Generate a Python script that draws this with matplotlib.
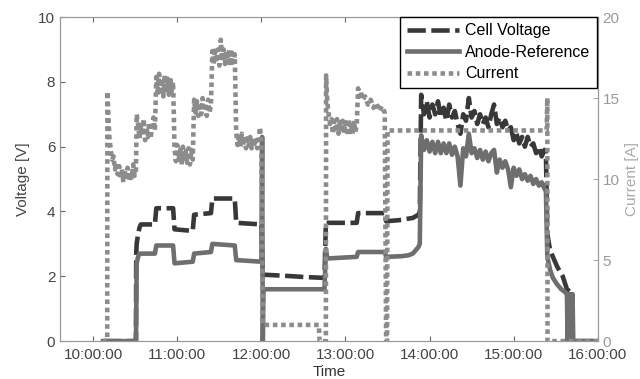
import pandas as pd
import matplotlib.pyplot as plt
import matplotlib.dates as mdates

plt.rcParams['font.family'] = ['Liberation Sans', 'DejaVu Sans']
plt.rcParams['font.size'] = 11

day = "2000-01-01 "

# current [A], right axis
cur_t = [
    "10:07", "10:10", "10:10:05", "10:10:40", "10:11:30", "10:12:30", "10:13:30", "10:14:30",
    "10:15:30", "10:16:30", "10:17:30", "10:18:30", "10:19:30", "10:20:30", "10:21:30", "10:22:30",
    "10:23:30", "10:24:30", "10:25:30", "10:26:30", "10:27:30", "10:28:30", "10:29:30", "10:30:30",
    "10:31", "10:32", "10:33", "10:34", "10:35", "10:36", "10:37", "10:38", "10:39", "10:40", "10:41", "10:42", "10:43", "10:44",
    "10:45", "10:46", "10:47", "10:48", "10:49", "10:50", "10:51", "10:52", "10:53", "10:54", "10:55", "10:56", "10:57",
    "10:58", "10:59", "11:00", "11:01", "11:02", "11:03", "11:04", "11:05", "11:06", "11:07", "11:08", "11:09", "11:10", "11:11",
    "11:12", "11:13", "11:14", "11:15", "11:16", "11:17", "11:18", "11:19", "11:20", "11:21", "11:22", "11:23", "11:24",
    "11:25", "11:26", "11:27", "11:28", "11:29", "11:30", "11:31", "11:32", "11:33", "11:34", "11:35", "11:36", "11:37", "11:38", "11:39", "11:40", "11:41",
    "11:42", "11:43", "11:44", "11:45", "11:46", "11:47", "11:48", "11:49", "11:50", "11:51", "11:52", "11:53", "11:54", "11:55", "11:56", "11:57", "11:58", "11:59", "12:00",
    "12:01", "12:10", "12:20", "12:30", "12:41", "12:41:30", "12:46", "12:46:10", "12:47", "12:48", "12:49",
    "12:50", "12:51", "12:52", "12:53", "12:54", "12:55", "12:56", "12:57", "12:58", "12:59", "13:00", "13:01", "13:02", "13:03", "13:04", "13:05", "13:06", "13:07", "13:08",
    "13:09", "13:10", "13:11", "13:12", "13:14", "13:16", "13:18", "13:20", "13:22", "13:24", "13:26", "13:28",
    "13:29", "13:29:40", "13:30", "14:00", "14:30", "15:00", "15:23:30", "15:24", "15:24:10", "16:00",
]
cur_a = [
    0, 0, 15.4, 14.2, 12.6, 11.8, 11.2, 11.4,
    10.6, 11.0, 10.3, 10.8, 10.0, 10.6, 9.8, 10.5,
    10.0, 10.7, 9.9, 10.4, 10.1, 10.9, 10.2, 10.6,
    14.0, 13.4, 12.5, 13.3, 12.7, 13.7, 12.4, 13.2, 12.6, 13.5, 12.5, 13.3, 13.8, 13.0,
    16.3, 15.2, 16.5, 15.4, 16.2, 15.1, 16.4, 15.3, 16.2, 15.2, 16.3, 15.4, 16.0,
    11.9, 11.1, 12.1, 11.2, 11.8, 10.9, 12.0, 11.1, 11.7, 11.0, 11.9, 10.9, 11.8, 11.2,
    14.9, 14.1, 14.8, 13.9, 14.7, 14.0, 15.0, 14.2, 14.7, 13.9, 14.9, 14.1, 14.6,
    17.9, 17.1, 18.1, 17.2, 18.0, 17.0, 18.6, 17.3, 18.0, 17.1, 17.9, 17.2, 18.0, 17.0, 17.8, 17.2, 17.7,
    12.9, 12.1, 12.7, 12.0, 12.8, 12.1, 12.6, 11.9, 12.7, 12.1, 12.6, 11.9, 12.5, 12.0, 12.6, 11.9, 12.4, 13.2, 12.2,
    1.0, 1.0, 1.0, 1.0, 1.0, 0, 0, 16.4, 14.8, 14.0, 13.4,
    13.7, 12.8, 13.6, 12.9, 13.7, 12.8, 13.5, 12.9, 13.6, 12.8, 13.5, 12.9, 13.7, 12.9, 13.5, 12.8, 13.6, 12.9, 13.3,
    15.6, 15.1, 15.4, 14.9, 15.1, 14.6, 14.9, 14.4, 14.7, 14.2, 14.5, 14.1,
    0, 0, 13.0, 13.0, 13.0, 13.0, 13.0, 15.0, 0, 0,
]

# shared time stamps of the noisy high-load period
noisy_t = [
    "13:54", "13:56", "13:58", "14:00", "14:02", "14:04", "14:06", "14:08", "14:10", "14:12",
    "14:14", "14:16", "14:18", "14:20", "14:22", "14:24", "14:26", "14:28", "14:30", "14:32",
    "14:34", "14:36", "14:38", "14:40", "14:42", "14:44", "14:46", "14:48", "14:50", "14:52",
    "14:54", "14:56", "14:58", "15:00", "15:02", "15:04", "15:06", "15:08", "15:10", "15:12",
    "15:14", "15:16", "15:18", "15:20", "15:22", "15:23",
]

# cell voltage [V]
cell_t = (
    ["10:07", "10:30:30", "10:30:40", "10:31", "10:32", "10:33", "10:34", "10:44",
     "10:45", "10:57", "10:58", "11:11", "11:12", "11:24", "11:25", "11:41", "11:42", "12:00",
     "12:01", "12:15", "12:30", "12:45", "12:46", "13:08", "13:09", "13:28",
     "13:29", "13:35", "13:40", "13:45", "13:48", "13:50", "13:52", "13:53"]
    + noisy_t
    + ["15:24", "15:26", "15:28", "15:31", "15:35", "15:38", "15:41", "15:42", "16:00"]
)
cell_v = (
    [0, 0, 2.7, 3.0, 3.3, 3.5, 3.6, 3.6,
     4.1, 4.1, 3.45, 3.4, 3.9, 3.95, 4.4, 4.4, 3.65, 3.6,
     2.05, 2.02, 1.98, 1.95, 3.65, 3.65, 3.95, 3.95,
     3.7, 3.72, 3.74, 3.78, 3.8, 3.85, 3.9, 3.95]
    + [7.6, 7.0, 7.4, 6.9, 7.3, 7.0, 7.4, 6.9, 7.2, 6.8,
       7.3, 6.9, 7.1, 6.7, 6.4, 7.0, 6.8, 7.5, 6.9, 7.1,
       6.7, 7.0, 6.7, 6.9, 6.6, 7.0, 7.3, 6.7, 6.9, 6.6,
       6.8, 6.5, 6.6, 6.2, 6.4, 6.1, 6.3, 6.0, 6.3, 6.0,
       6.1, 5.8, 6.0, 5.7, 5.9, 5.8]
    + [3.3, 2.8, 2.6, 2.3, 2.0, 1.6, 1.5, 0, 0]
)

# anode-reference voltage [V]
anode_t = (
    ["10:07", "10:30:30", "10:31", "10:32", "10:33", "10:44",
     "10:45", "10:57", "10:58", "11:11", "11:12", "11:24", "11:25", "11:41", "11:42", "12:00",
     "12:00:30", "12:01", "12:01:30", "12:45", "12:46", "12:47", "13:08", "13:09", "13:28",
     "13:29", "13:40", "13:45", "13:48", "13:50", "13:52", "13:53"]
    + noisy_t
    + ["15:24", "15:26", "15:28", "15:31", "15:34", "15:37", "15:38", "15:38:30", "15:39",
       "15:39:30", "15:40", "15:40:30", "15:41", "15:41:30", "15:42", "15:42:30", "16:00"]
)
anode_v = (
    [0, 0, 2.4, 2.6, 2.7, 2.7,
     2.95, 2.95, 2.4, 2.45, 2.7, 2.75, 3.0, 2.95, 2.5, 2.45,
     6.3, 0, 1.6, 1.6, 2.85, 2.55, 2.6, 2.75, 2.75,
     2.6, 2.62, 2.65, 2.7, 2.8, 2.9, 3.0]
    + [6.35, 5.9, 6.2, 5.85, 6.15, 5.8, 6.15, 5.8, 6.1, 5.8,
       6.1, 5.75, 6.0, 5.7, 4.8, 5.95, 5.7, 6.4, 5.8, 5.95,
       5.65, 5.9, 5.6, 5.85, 5.55, 5.8, 5.9, 5.2, 5.6, 5.35,
       5.55, 5.3, 4.75, 5.35, 5.1, 5.3, 5.0, 5.15, 4.95, 5.1,
       4.85, 5.0, 4.8, 4.9, 4.7, 4.65]
    + [2.6, 2.2, 1.95, 1.75, 1.6, 1.5, 1.45, 0, 1.45,
       0, 1.45, 0, 1.45, 0, 1.45, 0, 0]
)


def to_time(lst):
    return pd.to_datetime([day + (t if len(t) == 8 else t + ":00") for t in lst])


fig, ax = plt.subplots(figsize=(6.4, 3.79), dpi=100)
fig.subplots_adjust(left=0.094, right=0.934, bottom=0.1, top=0.955)
ax2 = ax.twinx()

l1, = ax.plot(to_time(cell_t), cell_v, color='#383838', lw=3.3, ls=(0, (4, 1.2)))
l2, = ax.plot(to_time(anode_t), anode_v, color='#6e6e6e', lw=3.3)
l3, = ax2.plot(to_time(cur_t), cur_a, color='#8c8c8c', lw=3.3, ls=(0, (1, 0.8)))

ax.set_xlim(pd.Timestamp(day + "09:36:24"), pd.Timestamp(day + "16:00:00"))
ax.set_ylim(0, 10)
ax2.set_ylim(0, 20)
ax.set_yticks([0, 2, 4, 6, 8, 10])
ax2.set_yticks([0, 5, 10, 15, 20])
ax.xaxis.set_major_locator(mdates.HourLocator())
ax.xaxis.set_major_formatter(mdates.DateFormatter('%H:%M:%S'))

ax.tick_params(direction='in', top=True, right=False, length=3.5, color='#666666', labelcolor='#444444')
ax.tick_params(axis='x', pad=5)
ax2.tick_params(direction='in', length=3.5, color='#aaaaaa', labelcolor='#999999')
for a in (ax, ax2):
    for s in a.spines.values():
        s.set_color('#999999')
        s.set_linewidth(0.8)

ax.set_xlabel('Time', color='#333333', labelpad=2)
ax.set_ylabel('Voltage [V]', color='#444444', labelpad=6)
ax2.set_ylabel('Current [A]', color='#aaaaaa', labelpad=4)

ax2.legend([l1, l2, l3], ['Cell Voltage', 'Anode-Reference', 'Current'],
           loc='upper right', bbox_to_anchor=(0.998, 1.0), borderaxespad=0,
           fancybox=False, edgecolor='black', framealpha=1, fontsize=11.5,
           handlelength=3.3, handletextpad=0.35, labelspacing=0.4, borderpad=0.4)

fig.savefig('out.png', dpi=100)
